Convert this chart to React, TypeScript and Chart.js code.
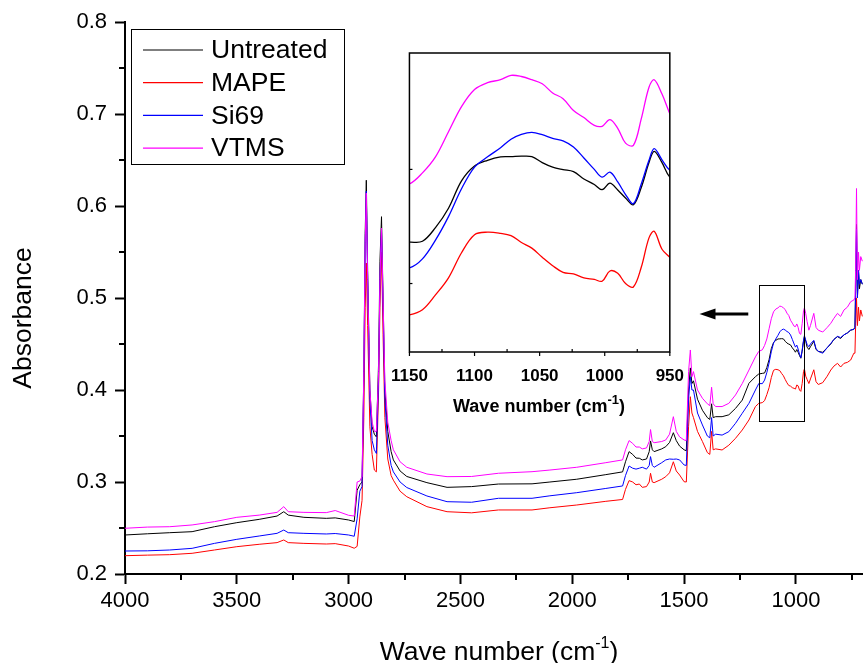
import React, { useEffect, useRef } from 'react';
import { Chart, registerables } from 'chart.js';

Chart.register(...registerables);

const FONT = '"Liberation Sans", Arial, Helvetica, sans-serif';

// ---- data (wave number, cm-1) ----
const wavenumbers = [
  4000, 3900, 3800, 3700, 3600, 3500, 3400, 3320, 3290, 3270,
  3200, 3100, 3060, 3000, 2975, 2962, 2950, 2940, 2932, 2926,
  2921, 2915, 2905, 2895, 2885, 2876, 2866, 2860, 2853, 2846,
  2838, 2825, 2810, 2800, 2770, 2740, 2650, 2560, 2450, 2330,
  2180, 2100, 1980, 1850, 1775, 1762, 1746, 1730, 1715, 1700,
  1687, 1668, 1656, 1650, 1642, 1634, 1600, 1582, 1565, 1548,
  1535, 1520, 1500, 1490, 1480, 1472, 1465, 1458, 1440, 1418,
  1396, 1385, 1377, 1370, 1359, 1330, 1300, 1270, 1240, 1210,
  1181, 1166, 1150, 1140, 1130, 1120, 1110, 1100, 1090, 1080,
  1072, 1064, 1056, 1048, 1040, 1032, 1024, 1016, 1008, 1002,
  996, 990, 984, 978, 972, 966, 962, 956, 950, 942,
  935, 920, 910, 900, 880, 860, 844, 830, 814, 800,
  785, 770, 755, 741, 736, 733, 729, 725, 720, 716,
  710, 703,
];

const untreated = [
  0.2424, 0.2437, 0.2449, 0.2460, 0.2514, 0.2558, 0.2594, 0.2630, 0.2677, 0.2640,
  0.2616, 0.2605, 0.2610, 0.2587, 0.2570, 0.2910, 0.2970, 0.3000, 0.4200, 0.5700,
  0.6280, 0.5300, 0.4000, 0.3600, 0.3520, 0.3490, 0.4300, 0.5400, 0.5884, 0.5000,
  0.4000, 0.3550, 0.3330, 0.3240, 0.3120, 0.3060, 0.2993, 0.2942, 0.2950, 0.2978,
  0.2980, 0.3000, 0.3030, 0.3080, 0.3110, 0.3220, 0.3330, 0.3300, 0.3260, 0.3258,
  0.3240, 0.3250, 0.3330, 0.3446, 0.3350, 0.3330, 0.3360, 0.3384, 0.3430, 0.3536,
  0.3450, 0.3390, 0.3350, 0.3340, 0.4000, 0.4240, 0.4070, 0.4100, 0.3900, 0.3780,
  0.3700, 0.3680, 0.3850, 0.3700, 0.3710, 0.3710, 0.3730, 0.3800, 0.3890, 0.4073,
  0.4145, 0.4174, 0.4181, 0.4185, 0.4245, 0.4330, 0.4450, 0.4515, 0.4540, 0.4555,
  0.4556, 0.4558, 0.4556, 0.4530, 0.4510, 0.4499, 0.4490, 0.4458, 0.4434, 0.4411,
  0.4440, 0.4410, 0.4375, 0.4345, 0.4420, 0.4530, 0.4579, 0.4530, 0.4466, 0.4440,
  0.4470, 0.4530, 0.4440, 0.4420, 0.4410, 0.4460, 0.4500, 0.4550, 0.4580, 0.4560,
  0.4600, 0.4620, 0.4650, 0.4660, 0.4680, 0.5100, 0.5800, 0.5000, 0.5300, 0.5100,
  0.5200, 0.5150,
];

const mape = [
  0.2199, 0.2205, 0.2210, 0.2225, 0.2261, 0.2297, 0.2323, 0.2341, 0.2370, 0.2341,
  0.2333, 0.2326, 0.2330, 0.2304, 0.2280, 0.2300, 0.2620, 0.2800, 0.3700, 0.4900,
  0.5380, 0.4700, 0.3600, 0.3300, 0.3130, 0.3110, 0.4000, 0.4900, 0.5500, 0.4600,
  0.3700, 0.3250, 0.3070, 0.3020, 0.2900, 0.2840, 0.2732, 0.2677, 0.2665, 0.2696,
  0.2696, 0.2720, 0.2750, 0.2790, 0.2810, 0.2920, 0.3015, 0.3000, 0.2970, 0.2978,
  0.2942, 0.2950, 0.3000, 0.3095, 0.3000, 0.2993, 0.3030, 0.3058, 0.3100, 0.3220,
  0.3120, 0.3076, 0.3003, 0.3000, 0.3600, 0.3927, 0.3750, 0.3700, 0.3550, 0.3440,
  0.3320, 0.3300, 0.3550, 0.3350, 0.3360, 0.3348, 0.3400, 0.3475, 0.3565, 0.3674,
  0.3820, 0.3855, 0.3863, 0.3885, 0.3950, 0.4025, 0.4135, 0.4214, 0.4225, 0.4220,
  0.4210, 0.4180, 0.4155, 0.4115, 0.4078, 0.4049, 0.4042, 0.4025, 0.4018, 0.4010,
  0.4055, 0.4045, 0.4000, 0.3985, 0.4070, 0.4200, 0.4229, 0.4150, 0.4115, 0.4070,
  0.4120, 0.4220, 0.4090, 0.4060, 0.4080, 0.4150, 0.4217, 0.4260, 0.4290, 0.4250,
  0.4290, 0.4300, 0.4326, 0.4400, 0.4400, 0.4700, 0.5000, 0.4700, 0.4900, 0.4750,
  0.4870, 0.4800,
];

const si69 = [
  0.2250, 0.2252, 0.2261, 0.2279, 0.2333, 0.2377, 0.2413, 0.2442, 0.2478, 0.2449,
  0.2442, 0.2435, 0.2440, 0.2424, 0.2410, 0.2600, 0.2900, 0.2950, 0.4100, 0.5600,
  0.6160, 0.5200, 0.3900, 0.3450, 0.3350, 0.3310, 0.4100, 0.5200, 0.5750, 0.4900,
  0.3900, 0.3400, 0.3180, 0.3110, 0.3000, 0.2940, 0.2848, 0.2786, 0.2780, 0.2823,
  0.2823, 0.2850, 0.2884, 0.2930, 0.2957, 0.3070, 0.3174, 0.3150, 0.3140, 0.3150,
  0.3160, 0.3140, 0.3180, 0.3276, 0.3180, 0.3160, 0.3210, 0.3240, 0.3250, 0.3247,
  0.3250, 0.3240, 0.3185, 0.3180, 0.3900, 0.4145, 0.4000, 0.4000, 0.3750, 0.3620,
  0.3500, 0.3480, 0.3700, 0.3500, 0.3520, 0.3510, 0.3547, 0.3638, 0.3747, 0.3855,
  0.4000, 0.4070, 0.4069, 0.4108, 0.4190, 0.4293, 0.4415, 0.4510, 0.4555, 0.4595,
  0.4632, 0.4653, 0.4662, 0.4652, 0.4636, 0.4625, 0.4598, 0.4550, 0.4500, 0.4466,
  0.4488, 0.4445, 0.4390, 0.4350, 0.4435, 0.4540, 0.4591, 0.4542, 0.4496, 0.4470,
  0.4500, 0.4540, 0.4450, 0.4420, 0.4400, 0.4460, 0.4507, 0.4550, 0.4583, 0.4570,
  0.4600, 0.4620, 0.4652, 0.4660, 0.4680, 0.5100, 0.5750, 0.5000, 0.5300, 0.5150,
  0.5200, 0.5150,
];

const vtms = [
  0.2497, 0.2510, 0.2514, 0.2533, 0.2569, 0.2616, 0.2640, 0.2670, 0.2732, 0.2677,
  0.2670, 0.2667, 0.2690, 0.2638, 0.2630, 0.3000, 0.3010, 0.3060, 0.4200, 0.5600,
  0.6140, 0.5200, 0.4000, 0.3650, 0.3550, 0.3550, 0.4200, 0.5200, 0.5760, 0.5000,
  0.4100, 0.3650, 0.3450, 0.3350, 0.3220, 0.3160, 0.3087, 0.3058, 0.3060, 0.3095,
  0.3112, 0.3130, 0.3160, 0.3210, 0.3240, 0.3350, 0.3450, 0.3420, 0.3380, 0.3380,
  0.3360, 0.3370, 0.3440, 0.3570, 0.3440, 0.3427, 0.3440, 0.3457, 0.3520, 0.3710,
  0.3550, 0.3490, 0.3457, 0.3450, 0.4200, 0.4435, 0.4145, 0.4200, 0.4000, 0.3910,
  0.3850, 0.3830, 0.4030, 0.3850, 0.3820, 0.3820, 0.3855, 0.3946, 0.4070, 0.4217,
  0.4360, 0.4420, 0.4437, 0.4485, 0.4555, 0.4665, 0.4775, 0.4850, 0.4880, 0.4893,
  0.4912, 0.4907, 0.4893, 0.4875, 0.4835, 0.4810, 0.4758, 0.4727, 0.4693, 0.4689,
  0.4718, 0.4680, 0.4615, 0.4605, 0.4720, 0.4860, 0.4893, 0.4830, 0.4744, 0.4650,
  0.4700, 0.4833, 0.4680, 0.4650, 0.4630, 0.4680, 0.4725, 0.4780, 0.4833, 0.4800,
  0.4870, 0.4900, 0.4960, 0.4978, 0.5000, 0.5300, 0.6190, 0.5200, 0.5500, 0.5300,
  0.5450, 0.5400,
];

const seriesNames = ['Untreated', 'MAPE', 'Si69', 'VTMS'];
const seriesValues = [untreated, mape, si69, vtms];
const seriesColors = ['#000000', '#ff0000', '#0000ff', '#ff00ff'];

const xTicks = [4000, 3500, 3000, 2500, 2000, 1500, 1000];
const xMinorTicks = [3750, 3250, 2750, 2250, 1750, 1250, 750];
const yTicks = [0.2, 0.3, 0.4, 0.5, 0.6, 0.7, 0.8];
const yMinorTicks = [0.25, 0.35, 0.45, 0.55, 0.65, 0.75];

const insetXTicks = [1150, 1100, 1050, 1000, 950];
const insetXMinorTicks = [1125, 1075, 1025, 975];
const insetYTicks = [0.4, 0.45];

// zoom box & arrow annotation (data coordinates)
const zoomBox = { x1: 1165, x2: 963, y1: 0.5141, y2: 0.3663 };
const arrow = { from: 1213, to: 1431, y: 0.4826 };

function buildDatasets(width: number, tension: number) {
  return seriesValues.map((vals, i) => ({
    label: seriesNames[i],
    data: wavenumbers.map((w, j) => ({ x: w, y: vals[j] })),
    borderColor: seriesColors[i],
    backgroundColor: seriesColors[i],
    borderWidth: width,
    pointRadius: 0,
    fill: false,
    tension,
    order: 3 - i,
  }));
}

function drawTitleWithSup(
  ctx: CanvasRenderingContext2D,
  main: string,
  sup: string,
  tail: string,
  cx: number,
  baseline: number,
  size: number,
  supSize: number,
  raise: number,
  bold: boolean,
) {
  const w = bold ? 'bold ' : '';
  const f = `${w}${size}px ${FONT}`;
  const fs = `${w}${supSize}px ${FONT}`;
  ctx.save();
  ctx.fillStyle = '#000';
  ctx.textAlign = 'left';
  ctx.textBaseline = 'alphabetic';
  ctx.font = f;
  const w1 = ctx.measureText(main).width;
  const w3 = ctx.measureText(tail).width;
  ctx.font = fs;
  const w2 = ctx.measureText(sup).width;
  let x = cx - (w1 + w2 + w3) / 2;
  ctx.font = f;
  ctx.fillText(main, x, baseline);
  x += w1;
  ctx.font = fs;
  ctx.fillText(sup, x, baseline - raise);
  x += w2;
  ctx.font = f;
  ctx.fillText(tail, x, baseline);
  ctx.restore();
}

const mainDecor = {
  id: 'mainDecor',
  afterDraw(chart: any) {
    const ctx: CanvasRenderingContext2D = chart.ctx;
    const xs = chart.scales.x;
    const ys = chart.scales.y;
    const area = chart.chartArea;
    ctx.save();
    ctx.strokeStyle = '#000';
    ctx.lineWidth = 2;
    // minor ticks
    xMinorTicks.forEach((v) => {
      const px = Math.round(xs.getPixelForValue(v));
      ctx.beginPath();
      ctx.moveTo(px, area.bottom);
      ctx.lineTo(px, area.bottom + 6);
      ctx.stroke();
    });
    yMinorTicks.forEach((v) => {
      const py = Math.round(ys.getPixelForValue(v));
      ctx.beginPath();
      ctx.moveTo(area.left - 6, py);
      ctx.lineTo(area.left, py);
      ctx.stroke();
    });

    // zoom rectangle
    ctx.lineWidth = 1;
    const rx1 = Math.round(xs.getPixelForValue(zoomBox.x1)) + 0.5;
    const rx2 = Math.round(xs.getPixelForValue(zoomBox.x2)) + 0.5;
    const ry1 = Math.round(ys.getPixelForValue(zoomBox.y1)) + 0.5;
    const ry2 = Math.round(ys.getPixelForValue(zoomBox.y2)) + 0.5;
    ctx.strokeRect(rx1, ry1, rx2 - rx1, ry2 - ry1);

    // arrow
    const ax1 = xs.getPixelForValue(arrow.from);
    const ax2 = xs.getPixelForValue(arrow.to);
    const ay = ys.getPixelForValue(arrow.y);
    ctx.lineWidth = 3;
    ctx.beginPath();
    ctx.moveTo(ax1, ay);
    ctx.lineTo(ax2 + 14, ay);
    ctx.stroke();
    ctx.fillStyle = '#000';
    ctx.beginPath();
    ctx.moveTo(ax2, ay);
    ctx.lineTo(ax2 + 16, ay - 5.5);
    ctx.lineTo(ax2 + 16, ay + 5.5);
    ctx.closePath();
    ctx.fill();

    // legend
    const lx = 131.5, ly = 29.5, lw = 213, lh = 135;
    ctx.fillStyle = '#fff';
    ctx.fillRect(lx, ly, lw, lh);
    ctx.lineWidth = 1;
    ctx.strokeStyle = '#000';
    ctx.strokeRect(lx, ly, lw, lh);
    ctx.font = `26.5px ${FONT}`;
    ctx.textAlign = 'left';
    ctx.textBaseline = 'middle';
    seriesNames.forEach((name, i) => {
      const y = 50 + i * 32.7;
      ctx.strokeStyle = seriesColors[i];
      ctx.lineWidth = 1.2;
      ctx.beginPath();
      ctx.moveTo(143, y);
      ctx.lineTo(203, y);
      ctx.stroke();
      ctx.fillStyle = '#000';
      ctx.fillText(name, 211, y + 1);
    });

    // y axis title
    ctx.save();
    ctx.translate(24, 318);
    ctx.rotate(-Math.PI / 2);
    ctx.font = `26.5px ${FONT}`;
    ctx.textAlign = 'center';
    ctx.textBaseline = 'middle';
    ctx.fillStyle = '#000';
    ctx.fillText('Absorbance', 0, 0);
    ctx.restore();
    ctx.restore();

    // x axis title
    drawTitleWithSup(ctx, 'Wave number (cm', '-1', ')', 499, 660, 26.5, 16, 12, false);
  },
};

const insetDecor = {
  id: 'insetDecor',
  afterDraw(chart: any) {
    const ctx: CanvasRenderingContext2D = chart.ctx;
    const xs = chart.scales.x;
    const ys = chart.scales.y;
    const a = chart.chartArea;
    ctx.save();
    ctx.strokeStyle = '#000';
    ctx.lineWidth = 1.5;
    ctx.strokeRect(a.left, a.top, a.right - a.left, a.bottom - a.top);
    ctx.lineWidth = 1.2;
    insetXTicks.forEach((v) => {
      const px = xs.getPixelForValue(v);
      ctx.beginPath();
      ctx.moveTo(px, a.bottom);
      ctx.lineTo(px, a.bottom + 4);
      ctx.stroke();
    });
    insetXMinorTicks.forEach((v) => {
      const px = xs.getPixelForValue(v);
      ctx.beginPath();
      ctx.moveTo(px, a.bottom);
      ctx.lineTo(px, a.bottom - 3);
      ctx.stroke();
    });
    insetYTicks.forEach((v) => {
      const py = ys.getPixelForValue(v);
      ctx.beginPath();
      ctx.moveTo(a.left, py);
      ctx.lineTo(a.left + 3, py);
      ctx.stroke();
    });
    ctx.restore();
    drawTitleWithSup(ctx, 'Wave number (cm', '-1', ')', 154, 367, 18, 13, 8, true);
  },
};

export default function App() {
  const mainRef = useRef<HTMLCanvasElement>(null);
  const insetRef = useRef<HTMLCanvasElement>(null);

  useEffect(() => {
    const main = new Chart(mainRef.current as HTMLCanvasElement, {
      type: 'line',
      data: { datasets: buildDatasets(1, 0) as any },
      options: {
        animation: false,
        responsive: false,
        devicePixelRatio: 1,
        layout: { padding: { top: 22, left: 0, right: 0, bottom: 0 }, autoPadding: false } as any,
        plugins: { legend: { display: false }, tooltip: { enabled: false }, title: { display: false } },
        scales: {
          x: {
            type: 'linear',
            reverse: true,
            min: 700,
            max: 4000,
            afterBuildTicks: (s: any) => {
              s.ticks = xTicks.map((v) => ({ value: v }));
            },
            afterFit: (s: any) => {
              s.height = 89;
            },
            ticks: {
              color: '#000',
              font: { family: FONT, size: 22 },
              padding: 4,
              maxRotation: 0,
              autoSkip: false,
              callback: (v: any) => String(v),
            },
            grid: { display: true, drawOnChartArea: false, drawTicks: true, tickLength: 10, tickWidth: 2, tickColor: '#000' },
            border: { display: true, color: '#000', width: 2 },
          },
          y: {
            type: 'linear',
            min: 0.2,
            max: 0.8,
            afterBuildTicks: (s: any) => {
              s.ticks = yTicks.map((v) => ({ value: v }));
            },
            afterFit: (s: any) => {
              s.width = 125;
            },
            ticks: {
              color: '#000',
              font: { family: FONT, size: 22 },
              padding: 8,
              callback: (v: any) => Number(v).toFixed(1),
            },
            grid: { display: true, drawOnChartArea: false, drawTicks: true, tickLength: 10, tickWidth: 2, tickColor: '#000' },
            border: { display: true, color: '#000', width: 2 },
          },
        },
      } as any,
      plugins: [mainDecor],
    });

    const inset = new Chart(insetRef.current as HTMLCanvasElement, {
      type: 'line',
      data: { datasets: buildDatasets(1.3, 0.35) as any },
      options: {
        animation: false,
        responsive: false,
        devicePixelRatio: 1,
        layout: { padding: { top: 8, left: 23, right: 19, bottom: 0 }, autoPadding: false } as any,
        plugins: { legend: { display: false }, tooltip: { enabled: false }, title: { display: false } },
        scales: {
          x: {
            type: 'linear',
            reverse: true,
            min: 950,
            max: 1150,
            afterBuildTicks: (s: any) => {
              s.ticks = insetXTicks.map((v) => ({ value: v }));
            },
            afterFit: (s: any) => {
              s.height = 73;
            },
            ticks: {
              color: '#000',
              font: { family: FONT, size: 17, weight: 'bold' },
              padding: 6,
              maxRotation: 0,
              autoSkip: false,
              callback: (v: any) => String(v),
            },
            grid: { display: false },
            border: { display: false },
          },
          y: {
            type: 'linear',
            display: false,
            min: 0.37,
            max: 0.501,
          },
        },
      } as any,
      plugins: [insetDecor],
    });

    return () => {
      main.destroy();
      inset.destroy();
    };
  }, []);

  return (
    <div style={{ position: 'absolute', left: 0, top: 0, width: 863, height: 663, background: '#ffffff' }}>
      <canvas
        ref={mainRef}
        width={863}
        height={663}
        style={{ position: 'absolute', left: 0, top: 0, width: 863, height: 663 }}
      />
      <canvas
        ref={insetRef}
        width={305}
        height={380}
        style={{ position: 'absolute', left: 385, top: 45, width: 305, height: 380 }}
      />
    </div>
  );
}
